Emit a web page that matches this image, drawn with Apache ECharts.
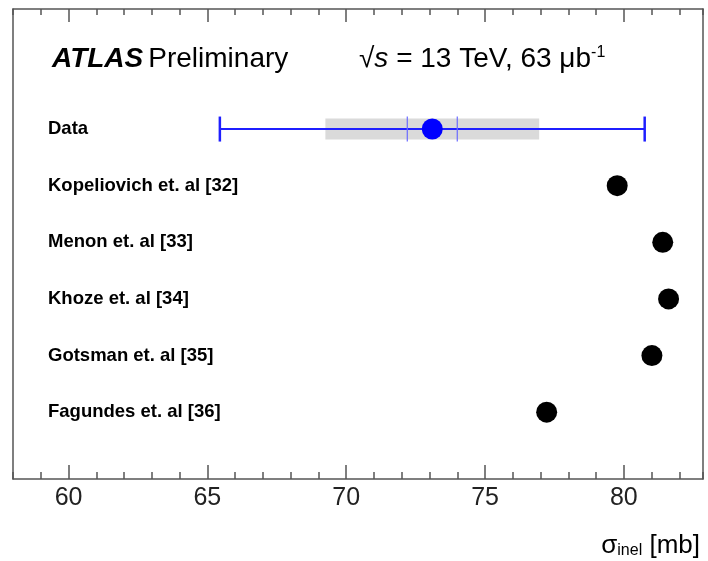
<!DOCTYPE html>
<html>
<head>
    <meta charset="utf-8" />
    <title>ATLAS sigma inel</title>
    <script src="https://cdn.jsdelivr.net/npm/echarts@6/dist/echarts.min.js"></script>
    <style>
        body { margin: 0; background: #fff; }
        #main { width: 708px; height: 561px; }
    </style>
</head>
<body>
    <div id="main"></div>
    <script type="text/javascript">
        // rows, top to bottom
        var rowNames = ['Data', 'Kopeliovich et. al [32]', 'Menon et. al [33]', 'Khoze et. al [34]', 'Gotsman et. al [35]', 'Fagundes et. al [36]'];
        // model predictions (mb)
        var modelValues = [79.76, 81.40, 81.61, 81.01, 77.22];
        // measurement: central, inner (exp) error, grey box error, total error
        var dataCentral = 73.1;
        var innerErr = 0.9;
        var boxErr = 3.85;
        var totalErr = 7.65;
        var majorTicks = [60, 65, 70, 75, 80];

        var frameColor = '#555';
        var font = 'Liberation Sans, Arial, Helvetica, sans-serif';

        var labelData = rowNames.map(function (n, i) { return [58, i, n]; });
        var modelData = modelValues.map(function (v, i) { return [v, i + 1]; });

        function xAxisDef(pos, major) {
            return {
                type: 'value', position: pos, min: 58, max: 82.85,
                interval: major ? null : 1,
                axisLine: { show: !major, onZero: false, lineStyle: { color: frameColor, width: 1.5 } },
                axisTick: major
                    ? { show: true, inside: true, length: pos === 'bottom' ? 14 : 13, customValues: majorTicks, lineStyle: { color: frameColor, width: 1.5 } }
                    : { show: true, inside: true, length: pos === 'bottom' ? 7 : 6, lineStyle: { color: frameColor, width: 1.5 } },
                axisLabel: (major && pos === 'bottom')
                    ? { show: true, customValues: majorTicks, fontSize: 25, color: '#222', fontFamily: font, margin: 7 }
                    : { show: false },
                splitLine: { show: false }
            };
        }

        var myChart = echarts.init(document.getElementById('main'));
        var option = {
            animation: false,
            backgroundColor: '#fff',
            title: [
                {
                    text: '{a|ATLAS} {b|Preliminary}', left: 47, top: 40,
                    textStyle: { fontWeight: 'normal', rich: {
                        a: { fontSize: 28, fontWeight: 'bold', fontStyle: 'italic', color: '#000', fontFamily: font },
                        b: { fontSize: 28, fontWeight: 'normal', color: '#000', fontFamily: font }
                    } }
                },
                {
                    text: '{b|√}{s|s}{b| = 13 TeV, 63 μb}{sup|-1}', left: 354, top: 40,
                    textStyle: { fontWeight: 'normal', rich: {
                        b: { fontSize: 28, fontWeight: 'normal', color: '#000', fontFamily: font },
                        s: { fontSize: 28, fontWeight: 'normal', fontStyle: 'italic', color: '#000', fontFamily: font },
                        sup: { fontSize: 16, fontWeight: 'normal', color: '#000', fontFamily: font, verticalAlign: 'top' }
                    } }
                },
                {
                    text: '{s|σ}{sub|inel}{b| [mb]}', right: 3, top: 528,
                    textStyle: { fontWeight: 'normal', rich: {
                        s: { fontSize: 26, fontWeight: 'normal', color: '#000', fontFamily: font },
                        sub: { fontSize: 16, fontWeight: 'normal', color: '#000', fontFamily: font, verticalAlign: 'bottom' },
                        b: { fontSize: 26, fontWeight: 'normal', color: '#000', fontFamily: font }
                    } }
                }
            ],
            grid: { left: 13, right: 5, top: 9, bottom: 82 },
            xAxis: [xAxisDef('bottom', false), xAxisDef('bottom', true), xAxisDef('top', false), xAxisDef('top', true)],
            yAxis: [
                { type: 'value', inverse: true, min: -2.12, max: 6.18, position: 'left',
                  axisLine: { show: true, onZero: false, lineStyle: { color: frameColor, width: 1.5 } },
                  axisTick: { show: false }, axisLabel: { show: false }, splitLine: { show: false } },
                { type: 'value', inverse: true, min: -2.12, max: 6.18, position: 'right',
                  axisLine: { show: true, onZero: false, lineStyle: { color: frameColor, width: 1.5 } },
                  axisTick: { show: false }, axisLabel: { show: false }, splitLine: { show: false } }
            ],
            series: [
                {
                    // grey box
                    type: 'custom',
                    data: [[dataCentral - boxErr, dataCentral + boxErr, 0]],
                    renderItem: function (params, api) {
                        var a = api.coord([api.value(0), api.value(2)]);
                        var b = api.coord([api.value(1), api.value(2)]);
                        return { type: 'rect', shape: { x: a[0], y: a[1] - 10.5, width: b[0] - a[0], height: 21 },
                                 style: { fill: '#dadada' } };
                    }
                },
                {
                    // blue error bars
                    type: 'custom',
                    data: [[dataCentral - totalErr, dataCentral + totalErr, dataCentral - innerErr, dataCentral + innerErr, 0]],
                    renderItem: function (params, api) {
                        var row = api.value(4);
                        var lo = api.coord([api.value(0), row]);
                        var hi = api.coord([api.value(1), row]);
                        var il = api.coord([api.value(2), row]);
                        var ih = api.coord([api.value(3), row]);
                        var c = '#1f1fff';
                        return { type: 'group', children: [
                            { type: 'line', shape: { x1: lo[0], y1: lo[1], x2: hi[0], y2: hi[1] }, style: { stroke: c, lineWidth: 2 } },
                            { type: 'line', shape: { x1: lo[0], y1: lo[1] - 12.5, x2: lo[0], y2: lo[1] + 12.5 }, style: { stroke: c, lineWidth: 2.5 } },
                            { type: 'line', shape: { x1: hi[0], y1: hi[1] - 12.5, x2: hi[0], y2: hi[1] + 12.5 }, style: { stroke: c, lineWidth: 2.5 } },
                            { type: 'line', shape: { x1: il[0], y1: il[1] - 12.5, x2: il[0], y2: il[1] + 12.5 }, style: { stroke: '#6a6aff', lineWidth: 1.2 } },
                            { type: 'line', shape: { x1: ih[0], y1: ih[1] - 12.5, x2: ih[0], y2: ih[1] + 12.5 }, style: { stroke: '#6a6aff', lineWidth: 1.2 } }
                        ] };
                    }
                },
                {
                    type: 'scatter', symbolSize: 21,
                    itemStyle: { color: '#0000ff', opacity: 1 },
                    data: [[dataCentral, 0]]
                },
                {
                    type: 'scatter', symbolSize: 21,
                    itemStyle: { color: '#000', opacity: 1 },
                    data: modelData
                },
                {
                    // row labels
                    type: 'scatter', symbolSize: 0, silent: true,
                    itemStyle: { opacity: 1 },
                    data: labelData,
                    label: {
                        show: true, position: 'right', distance: 35,
                        formatter: function (p) { return p.data[2]; },
                        fontSize: 18.5, fontWeight: 'bold', color: '#000', fontFamily: font
                    }
                }
            ]
        };
        myChart.setOption(option);
    </script>
</body>
</html>
